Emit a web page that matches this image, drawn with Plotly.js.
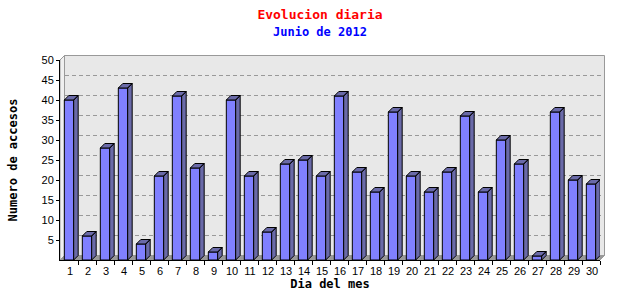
<!DOCTYPE html>
<html>
<head>
<meta charset="utf-8">
<script src="https://cdn.plot.ly/plotly-3.0.1.min.js"></script>
<style>html,body{margin:0;padding:0;background:#fff;}#chart{width:640px;height:300px;}</style>
</head>
<body>
<div id="chart"></div>
<script>
// ---- data ----
const days = [1,2,3,4,5,6,7,8,9,10,11,12,13,14,15,16,17,18,19,20,21,22,23,24,25,26,27,28,29,30];
const accesses = [40,6,28,43,4,21,41,23,2,40,21,7,24,25,21,41,22,17,37,21,17,22,36,17,30,24,1,37,20,19];
const yTicks = [5,10,15,20,25,30,35,40,45,50];
const titleText = 'Evolucion diaria';
const subtitleText = 'Junio de 2012';
const xTitle = 'Dia del mes';
const yTitle = 'Numero de accesos';

// ---- geometry (pixels in 640x300 page) ----
const W = 640, H = 300;
const front = {x0: 60, x1: 600, y0: 60, y1: 260};
const depthX = 4.5, depthY = 4.5;
const back = {x0: front.x0 + depthX, x1: front.x1 + depthX, y0: front.y0 - depthY, y1: front.y1 - depthY};
const px = x => x / W;
const py = y => 1 - y / H;

const xRange = [0.5, days.length + 0.5];
const yRange = [0, 50];
const barWidth = 0.52;
const dxData = depthX * (xRange[1] - xRange[0]) / (front.x1 - front.x0);
const dyData = depthY * (yRange[1] - yRange[0]) / (front.y1 - front.y0);

// 3D side + top faces built from data
const polyX = [], polyY = [];
days.forEach((d, i) => {
  const v = accesses[i], h = barWidth / 2;
  polyX.push(d - h, d - h + dxData, d + h + dxData, d + h, d - h, null);
  polyY.push(v, v + dyData, v + dyData, v, v, null);
  polyX.push(d + h, d + h + dxData, d + h + dxData, d + h, d + h, null);
  polyY.push(0, dyData, v + dyData, v, 0, null);
});

const traces = [
  {
    type: 'scatter', mode: 'none', x: days, y: accesses, xaxis: 'x', yaxis: 'y',
    hoverinfo: 'skip', showlegend: false
  },
  {
    type: 'bar', x: days, y: accesses, xaxis: 'x2', yaxis: 'y2',
    width: barWidth,
    marker: {color: '#8080ff', line: {color: '#000', width: 1}},
    hoverinfo: 'x+y', showlegend: false
  },
  {
    type: 'scatter', mode: 'lines', x: polyX, y: polyY, xaxis: 'x2', yaxis: 'y2',
    fill: 'toself', fillcolor: '#6a6aa8', line: {color: '#000', width: 1},
    connectgaps: false, hoverinfo: 'skip', showlegend: false, cliponaxis: false
  }
];

const tickFont = {family: 'Liberation Sans, Arial, sans-serif', size: 11, color: '#000'};
const titleFont = {family: 'DejaVu Sans Mono, monospace', size: 12, color: '#000', weight: 'bold'};

const layout = {
  width: W, height: H,
  margin: {l: 0, r: 0, t: 0, b: 0, pad: 0},
  paper_bgcolor: '#fff',
  plot_bgcolor: 'rgba(0,0,0,0)',
  showlegend: false,
  title: {
    text: titleText,
    font: {family: 'DejaVu Sans Mono, monospace', size: 13, color: '#ff0000', weight: 'bold'},
    x: 0.5, xanchor: 'center', xref: 'paper',
    y: py(14), yanchor: 'middle', yref: 'paper'
  },
  annotations: [{
    text: subtitleText, xref: 'paper', yref: 'paper', x: 0.5, y: py(32),
    xanchor: 'center', yanchor: 'middle', showarrow: false,
    font: {family: 'DejaVu Sans Mono, monospace', size: 12, color: '#0000ff', weight: 'bold'}
  }],
  xaxis: {
    domain: [px(back.x0), px(back.x1)], range: xRange, anchor: 'y',
    showgrid: false, zeroline: false, showline: false, showticklabels: false, ticks: '',
    fixedrange: true
  },
  yaxis: {
    domain: [py(back.y1), py(back.y0)], range: yRange, anchor: 'x',
    showgrid: true, gridcolor: '#999999', griddash: '4px,3px', gridwidth: 1,
    tickmode: 'array', tickvals: yTicks.slice(0, -1),
    zeroline: false, showline: false, showticklabels: false, ticks: '',
    fixedrange: true
  },
  xaxis2: {
    domain: [px(front.x0), px(front.x1)], range: xRange, anchor: 'y2',
    showgrid: false, zeroline: false,
    showline: true, linecolor: '#000', linewidth: 1,
    tickmode: 'array', tickvals: days.map(d => d + 0.5), ticktext: days.map(String),
    ticks: 'outside', ticklen: 4, tickcolor: '#000', ticklabelshift: -8, ticklabelstandoff: -3,
    tickfont: tickFont,
    title: {text: xTitle, font: titleFont, standoff: 0},
    automargin: false, fixedrange: true
  },
  yaxis2: {
    domain: [py(front.y1), py(front.y0)], range: yRange, anchor: 'x2',
    showgrid: false, zeroline: false,
    showline: true, linecolor: '#000', linewidth: 1,
    tickmode: 'array', tickvals: yTicks,
    ticks: 'outside', ticklen: 3, tickcolor: '#000',
    tickfont: tickFont,
    title: {text: yTitle, font: titleFont, standoff: 21},
    automargin: false, fixedrange: true
  },
  shapes: [
    {type: 'rect', xref: 'paper', yref: 'paper', layer: 'below',
     x0: px(back.x0), x1: px(back.x1), y0: py(back.y1), y1: py(back.y0),
     fillcolor: '#e8e8e8', line: {color: '#999999', width: 1}},
    {type: 'path', xref: 'paper', yref: 'paper', layer: 'below',
     path: `M ${px(front.x0)} ${py(front.y1)} L ${px(front.x0)} ${py(front.y0)} L ${px(back.x0)} ${py(back.y0)} L ${px(back.x0)} ${py(back.y1)} Z`,
     fillcolor: '#f0f0f0', line: {color: '#999999', width: 1}},
    {type: 'path', xref: 'paper', yref: 'paper', layer: 'below',
     path: `M ${px(front.x0)} ${py(front.y1)} L ${px(front.x1)} ${py(front.y1)} L ${px(back.x1)} ${py(back.y1)} L ${px(back.x0)} ${py(back.y1)} Z`,
     fillcolor: '#999999', line: {color: '#999999', width: 1}}
  ],
  bargap: 0.48
};

Plotly.newPlot('chart', traces, layout, {displayModeBar: false, staticPlot: true});
</script>
</body>
</html>
